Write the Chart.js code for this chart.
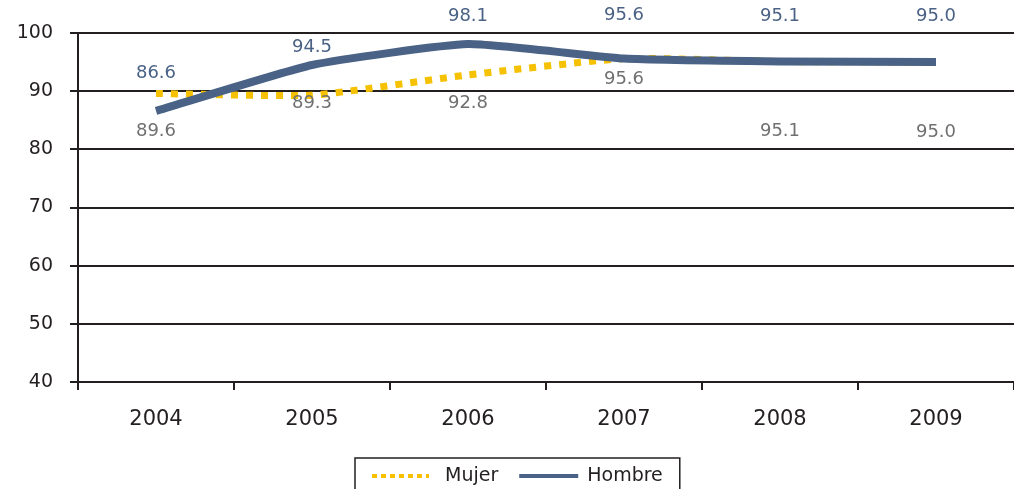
<!DOCTYPE html>
<html>
<head>
<meta charset="utf-8">
<script src="https://cdn.jsdelivr.net/npm/chart.js@4.4.0/dist/chart.umd.min.js"></script>
<style>
  html, body { margin: 0; padding: 0; background: #fff; }
  #wrap { width: 1014px; height: 489px; }
</style>
</head>
<body>
<div id="wrap"><canvas id="chart" width="1014" height="489"></canvas></div>
<script>
const years = ["2004", "2005", "2006", "2007", "2008", "2009"];
const mujer = [89.6, 89.3, 92.8, 95.6, 95.1, 95.0];
const hombre = [86.6, 94.5, 98.1, 95.6, 95.1, 95.0];
const yTicks = [40, 50, 60, 70, 80, 90, 100];

// label nudges (px) to match the original placement
const hombreLabelShift = [-38, -18, -28, -43, -45, -46];
const mujerLabelShift = [38, 8, 28, 21, 70, 70];

const FONT = "'DejaVu Sans', sans-serif";
const INK = '#231f20';
const YELLOW = '#f5c100';
const BLUE = '#4a6285';

const valueLabels = {
    id: 'valueLabels',
    afterDatasetsDraw(chart) {
        const ctx = chart.ctx;
        ctx.save();
        ctx.font = '18px ' + FONT;
        ctx.textAlign = 'center';
        ctx.textBaseline = 'middle';
        chart.data.datasets.forEach((ds, i) => {
            const meta = chart.getDatasetMeta(i);
            const shifts = i === 0 ? mujerLabelShift : hombreLabelShift;
            ctx.fillStyle = i === 0 ? '#707070' : BLUE;
            meta.data.forEach((pt, j) => {
                ctx.fillText(ds.data[j].toFixed(1), pt.x, pt.y + shifts[j]);
            });
        });
        ctx.restore();
    }
};

// hand drawn legend: dotted line for Mujer, solid for Hombre, framed
const boxLegend = {
    id: 'boxLegend',
    afterDraw(chart) {
        const ctx = chart.ctx;
        const ds = chart.data.datasets;
        ctx.save();
        ctx.font = '19px ' + FONT;
        ctx.textBaseline = 'middle';
        const w0 = ctx.measureText(ds[0].label).width;
        const w1 = ctx.measureText(ds[1].label).width;
        const total = 17 + 57 + 16 + w0 + 21 + 59 + 9 + w1 + 17;
        const left = Math.round(chart.width / 2 + 10 - total / 2);
        const top = 458;
        const cy = 476;

        ctx.strokeStyle = INK;
        ctx.lineWidth = 1.5;
        ctx.strokeRect(left, top, total, 50);

        let x = left + 17;
        ctx.strokeStyle = YELLOW;
        ctx.lineWidth = 4;
        ctx.setLineDash([5, 4]);
        ctx.beginPath(); ctx.moveTo(x, cy); ctx.lineTo(x + 57, cy); ctx.stroke();
        ctx.setLineDash([]);
        x += 57 + 16;
        ctx.fillStyle = INK;
        ctx.fillText(ds[0].label, x, cy);
        x += w0 + 21;
        ctx.strokeStyle = BLUE;
        ctx.lineWidth = 4;
        ctx.beginPath(); ctx.moveTo(x, cy); ctx.lineTo(x + 59, cy); ctx.stroke();
        x += 59 + 9;
        ctx.fillText(ds[1].label, x, cy);
        ctx.restore();
    }
};

new Chart(document.getElementById('chart'), {
    type: 'line',
    data: {
        labels: years,
        datasets: [
            {
                label: 'Mujer',
                data: mujer,
                borderColor: YELLOW,
                backgroundColor: YELLOW,
                borderWidth: 7,
                borderDash: [7, 8],
                pointRadius: 0,
                tension: 0.15,
                order: 1
            },
            {
                label: 'Hombre',
                data: hombre,
                borderColor: BLUE,
                backgroundColor: BLUE,
                borderWidth: 8,
                pointRadius: 0,
                tension: 0.15,
                order: 0
            }
        ]
    },
    options: {
        responsive: false,
        animation: false,
        layout: { padding: { top: 33, right: 0, left: 0, bottom: 57 } },
        plugins: {
            tooltip: { enabled: false },
            legend: { display: false }
        },
        scales: {
            x: {
                offset: true,
                afterFit: s => { s.height = 50; },
                grid: {
                    offset: true,
                    drawOnChartArea: false,
                    tickLength: 8,
                    color: INK,
                    lineWidth: 2
                },
                border: { color: INK, width: 2 },
                ticks: {
                    color: INK,
                    font: { family: FONT, size: 21 },
                    padding: 17
                }
            },
            y: {
                min: 40,
                max: 100,
                afterFit: s => { s.width = 78; },
                afterBuildTicks: s => { s.ticks = yTicks.map(v => ({ value: v })); },
                grid: {
                    color: INK,
                    lineWidth: 2,
                    tickLength: 8
                },
                border: { color: INK, width: 2 },
                ticks: {
                    color: INK,
                    font: { family: FONT, size: 19 },
                    padding: 17
                }
            }
        }
    },
    plugins: [valueLabels, boxLegend]
});
</script>
</body>
</html>
